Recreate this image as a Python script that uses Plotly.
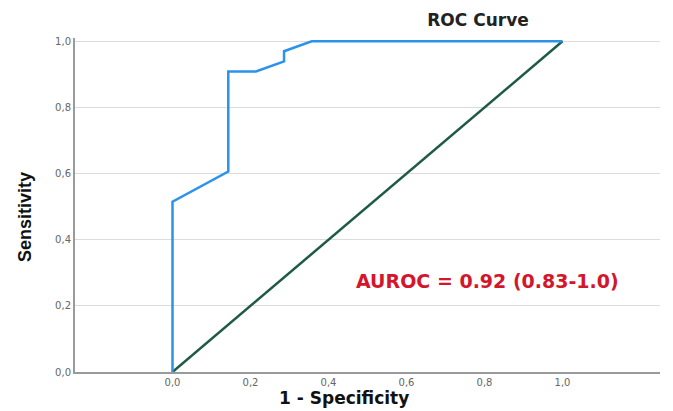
import plotly.graph_objects as go

# ROC curve data (1 - specificity, sensitivity)
fpr = [0.0, 0.0, 0.143, 0.143, 0.214, 0.286, 0.286, 0.357, 1.0]
tpr = [0.0, 0.515, 0.606, 0.909, 0.909, 0.939, 0.970, 1.0, 1.0]
ref_x = [0.0, 1.0]
ref_y = [0.0, 1.0]
tick_vals = [0.0, 0.2, 0.4, 0.6, 0.8, 1.0]
auc_text = "AUROC = 0.92 (0.83-1.0)"

fig = go.Figure()
fig.add_trace(go.Scatter(x=ref_x, y=ref_y, mode="lines",
                         line=dict(color="#1f5a48", width=2.5), hoverinfo="skip"))
fig.add_trace(go.Scatter(x=fpr, y=tpr, mode="lines",
                         line=dict(color="#2b93ea", width=2.5), hoverinfo="skip"))

fig.add_annotation(x=0.808, y=0.275, xref="x", yref="y", text="<b>" + auc_text + "</b>",
                   showarrow=False, font=dict(family="DejaVu Sans", size=19, color="#d4162c"))
fig.add_annotation(x=0.46, y=-0.078, xref="paper", yref="paper", text="<b>1 - Specificity</b>",
                   showarrow=False, xanchor="center", yanchor="middle",
                   font=dict(family="DejaVu Sans", size=17, color="#111"))
fig.add_annotation(x=-0.0855, y=0.464, xref="paper", yref="paper", text="<b>Sensitivity</b>",
                   showarrow=False, textangle=-90, xanchor="center", yanchor="middle",
                   font=dict(family="Liberation Sans, Arial", size=18, color="#111"))

fig.update_layout(
    width=665, height=403,
    margin=dict(l=67, r=13, t=30, b=39),
    plot_bgcolor="white", paper_bgcolor="white",
    showlegend=False,
    separators=",.",
    title=dict(text="<b>ROC Curve</b>", x=470/665, xref="container", xanchor="center",
               y=1-12.5/403, yref="container", yanchor="middle",
               font=dict(family="DejaVu Sans", size=17, color="#222")),
    xaxis=dict(range=[-0.25, 1.25], tickvals=tick_vals, tickformat=".1f",
               showgrid=False, zeroline=False, showline=True, linecolor="#9a9a9a", linewidth=2,
               ticks="", tickfont=dict(family="DejaVu Sans", size=10, color="#666")),
    yaxis=dict(range=[0, 1.01], tickvals=tick_vals, tickformat=".1f",
               showgrid=True, gridcolor="#dcdcdc", gridwidth=1, zeroline=False,
               showline=True, linecolor="#9a9a9a", linewidth=2,
               ticks="", tickfont=dict(family="DejaVu Sans", size=10, color="#666")),
)

fig.write_html("out.html")
